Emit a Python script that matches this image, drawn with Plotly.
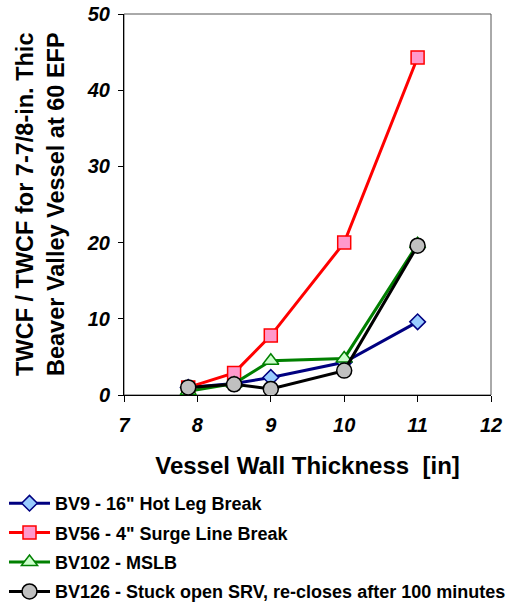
import plotly.graph_objects as go

thickness = [7.875, 8.5, 9, 10, 11]
bv9 = [1.0, 1.5, 2.3, 4.3, 9.6]
bv56 = [1.0, 2.9, 7.8, 20.0, 44.3]
bv102 = [0.5, 1.5, 4.5, 4.8, 19.8]
bv126 = [1.0, 1.4, 0.8, 3.2, 19.6]

names = ['BV9 - 16" Hot Leg Break', 'BV56 - 4" Surge Line Break', 'BV102 - MSLB',
         'BV126 - Stuck open SRV, re-closes after 100 minutes']
series = [bv9, bv56, bv102, bv126]
line_colors = ['#000080', '#FF0000', '#008000', '#000000']
fill_colors = ['#99CCFF', '#FF99CC', '#CCFFCC', '#C0C0C0']
symbols = ['diamond', 'square', 'triangle-up', 'circle']
sizes = [12, 13, 14, 15]

xticks = [7, 8, 9, 10, 11, 12]
yticks = [0, 10, 20, 30, 40, 50]

fig = go.Figure()
for i, (n, ys, lc, fc, sym, sz) in enumerate(zip(names, series, line_colors, fill_colors, symbols, sizes)):
    fig.add_trace(go.Scatter(
        x=thickness, y=ys, name=n, mode='lines+markers', legendgroup=f'g{i}',
        line=dict(color=lc, width=3),
        marker=dict(symbol=sym, size=sz, color=fc, line=dict(color=lc, width=1.5)),
    ))

fig.update_layout(
    width=508, height=605,
    margin=dict(l=124, r=17, t=14, b=210, autoexpand=False),
    plot_bgcolor='white', paper_bgcolor='white',
    font=dict(family='Liberation Sans, Arial', color='black'),
    showlegend=True,
    legend=dict(x=(4 - 124) / 367, y=(395 - 485) / 381,
                xanchor='left', yanchor='top',
                font=dict(size=18, weight='bold'), tracegroupgap=3,
                itemwidth=41,
                bgcolor='rgba(0,0,0,0)'),
    xaxis=dict(range=[7, 12], tickvals=xticks, ticks='outside', ticklen=6,
               tickcolor='black', showline=True, linecolor='black', linewidth=1,
               mirror=False, showgrid=False, zeroline=False, tickangle=0,
               tickfont=dict(size=20, weight='bold', style='italic'),
               ticklabelstandoff=6,
               title=dict(text='Vessel Wall Thickness  [in]',
                          font=dict(size=24, weight='bold'), standoff=22)),
    yaxis=dict(range=[0, 50], tickvals=yticks, ticks='outside', ticklen=5,
               tickcolor='black', showline=True, linecolor='black', linewidth=1,
               showgrid=False, zeroline=False,
               tickfont=dict(size=20, weight='bold', style='italic'),
               ticklabelstandoff=4),
    annotations=[dict(text='TWCF / TWCF for 7-7/8-in. Thic<br>Beaver Valley Vessel at 60 EFP',
                      xref='paper', yref='paper', x=(40 - 124) / 367, y=(395 - 204) / 381,
                      xanchor='center', yanchor='middle', textangle=-90, showarrow=False,
                      font=dict(size=23.5, weight='bold'))],
    shapes=[dict(type='rect', xref='paper', yref='paper', x0=0, x1=1, y0=0, y1=1,
                 line=dict(color='#555555', width=1), layer='below')],
)

fig.write_html('out.html')
